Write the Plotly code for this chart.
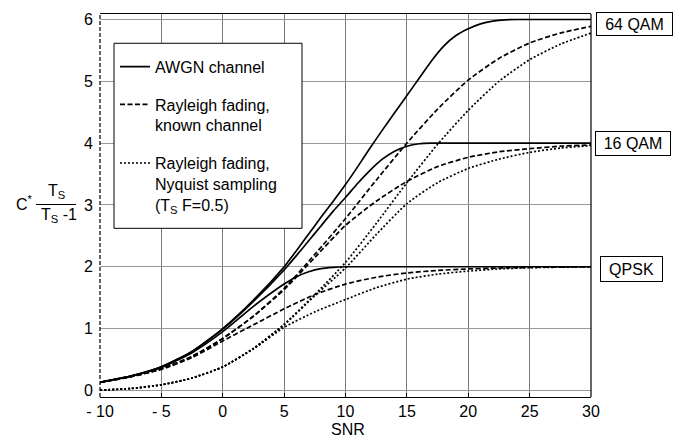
import plotly.graph_objects as go

# ---- SNR grids (dB) ----
snr_awgn = [-10, -7.5, -5, -2.5, 0, 2.5, 5, 6, 7, 8, 9, 10, 11, 12, 13, 14, 15,
            16, 17, 18, 19, 20, 21, 22, 23, 24, 25, 27.5, 30]
snr_fade = [-10, -7.5, -5, -2.5, 0, 2.5, 5, 7.5, 10, 12.5, 15, 17.5, 20, 22.5,
            25, 27.5, 30]

# ---- AWGN channel ----
awgn_64qam = [0.13, 0.23, 0.38, 0.63, 1.0, 1.46, 2.0, 2.26, 2.53, 2.8, 3.06, 3.33,
              3.62, 3.92, 4.21, 4.49, 4.77, 5.05, 5.33, 5.57, 5.74, 5.85, 5.93,
              5.975, 5.995, 6.0, 6.0, 6.0, 6.0]
awgn_16qam = [0.13, 0.23, 0.38, 0.63, 0.99, 1.44, 1.95, 2.18, 2.42, 2.66, 2.9,
              3.12, 3.35, 3.56, 3.74, 3.87, 3.95, 3.99, 4.0, 4.0, 4.0, 4.0, 4.0,
              4.0, 4.0, 4.0, 4.0, 4.0, 4.0]
awgn_qpsk = [0.13, 0.23, 0.37, 0.61, 0.95, 1.36, 1.72, 1.84, 1.92, 1.97, 1.99,
             2.0, 2.0, 2.0, 2.0, 2.0, 2.0, 2.0, 2.0, 2.0, 2.0, 2.0, 2.0, 2.0,
             2.0, 2.0, 2.0, 2.0, 2.0]

# ---- Rayleigh fading, known channel ----
ray_known_64qam = [0.13, 0.22, 0.35, 0.55, 0.84, 1.2, 1.65, 2.2, 2.78, 3.4, 4.0,
                   4.55, 5.02, 5.37, 5.62, 5.78, 5.89]
ray_known_16qam = [0.13, 0.22, 0.35, 0.55, 0.84, 1.2, 1.63, 2.15, 2.67, 3.06, 3.38,
                   3.62, 3.77, 3.86, 3.91, 3.95, 3.97]
ray_known_qpsk = [0.13, 0.22, 0.34, 0.53, 0.8, 1.06, 1.32, 1.55, 1.72, 1.83, 1.9,
                  1.94, 1.965, 1.98, 1.99, 1.995, 2.0]

# ---- Rayleigh fading, Nyquist sampling ----
ray_nyq_64qam = [0.005, 0.03, 0.09, 0.2, 0.38, 0.68, 1.07, 1.55, 2.07, 2.7, 3.36,
                 3.98, 4.53, 5.0, 5.35, 5.6, 5.78]
ray_nyq_16qam = [0.005, 0.03, 0.09, 0.2, 0.38, 0.68, 1.06, 1.53, 1.98, 2.52, 3.02,
                 3.36, 3.59, 3.74, 3.85, 3.92, 3.96]
ray_nyq_qpsk = [0.005, 0.03, 0.09, 0.2, 0.38, 0.67, 1.02, 1.27, 1.47, 1.66, 1.8,
                1.88, 1.93, 1.965, 1.985, 1.993, 1.998]

x_ticks = [-10, -5, 0, 5, 10, 15, 20, 25, 30]
x_tick_text = ["- 10", "- 5", "0", "5", "10", "15", "20", "25", "30"]
y_ticks = [0, 1, 2, 3, 4, 5, 6]

FONT = "Liberation Sans, Arial, Helvetica, sans-serif"
DASHED = "5px,2.5px"
DOTTED = "2px,2px"

fig = go.Figure()


def add_curve(x, y, dash, name, show, group):
    fig.add_trace(go.Scatter(
        x=x, y=y, mode="lines", name=name, legendgroup=group, showlegend=show,
        line=dict(color="black", width=1.7, dash=dash, shape="spline", smoothing=0.6),
        hoverinfo="skip",
    ))


add_curve(snr_awgn, awgn_64qam, "solid", "AWGN channel", True, "awgn")
add_curve(snr_fade, ray_known_64qam, DASHED, "Rayleigh fading,<br>known channel", True, "known")
add_curve(snr_fade, ray_nyq_64qam, DOTTED,
          "Rayleigh fading,<br>Nyquist sampling<br>(T<sub>S</sub> F=0.5)", True, "nyq")
add_curve(snr_awgn, awgn_16qam, "solid", "AWGN channel", False, "awgn")
add_curve(snr_awgn, awgn_qpsk, "solid", "AWGN channel", False, "awgn")
add_curve(snr_fade, ray_known_16qam, DASHED, "known", False, "known")
add_curve(snr_fade, ray_known_qpsk, DASHED, "known", False, "known")
add_curve(snr_fade, ray_nyq_16qam, DOTTED, "nyq", False, "nyq")
add_curve(snr_fade, ray_nyq_qpsk, DOTTED, "nyq", False, "nyq")

# plot area geometry (px) used for placing the decorations
L, R, T, B = 100, 91, 11, 44
W, H = 682 - L - R, 441 - T - B


def px(xp):
    return (xp - L) / W


def py(yp):
    return (441 - B - yp) / H


shapes = [
    # legend frame
    dict(type="rect", xref="paper", yref="paper", x0=px(114), x1=px(302),
         y0=py(227), y1=py(40.5), line=dict(color="black", width=1),
         fillcolor="white", layer="above"),
    # left border (dashed) and right border
    dict(type="line", xref="paper", yref="paper", x0=0, x1=0, y0=0, y1=1,
         line=dict(color="black", width=1.2, dash="4px,2px"), layer="above"),
    dict(type="line", xref="paper", yref="paper", x0=1, x1=1, y0=0, y1=1,
         line=dict(color="black", width=1.2), layer="above"),
    # fraction bar of the y-axis label
    dict(type="line", xref="paper", yref="paper", x0=px(36), x1=px(76),
         y0=py(203), y1=py(203), line=dict(color="black", width=1)),
]

annotations = [
    dict(text="C<sup>*</sup>", xref="paper", yref="paper", x=px(14), y=py(201),
         xanchor="left", yanchor="middle", showarrow=False,
         font=dict(family=FONT, size=16, color="black")),
    dict(text="T<sub>S</sub>", xref="paper", yref="paper", x=px(56), y=py(190),
         xanchor="center", yanchor="middle", showarrow=False,
         font=dict(family=FONT, size=16, color="black")),
    dict(text="T<sub>S</sub> -1", xref="paper", yref="paper", x=px(59), y=py(214),
         xanchor="center", yanchor="middle", showarrow=False,
         font=dict(family=FONT, size=16, color="black")),
    dict(text="SNR", xref="paper", yref="paper", x=px(348), y=py(430),
         xanchor="center", yanchor="middle", showarrow=False,
         font=dict(family=FONT, size=16, color="black")),
]

for label, level, cx, w, h, shift in [("64 QAM", 6, 634.5, 75, 22, -5),
                                      ("16 QAM", 4, 633, 74, 23, -0.5),
                                      ("QPSK", 2, 631.5, 61, 24, -2)]:
    annotations.append(dict(
        text=label, xref="paper", yref="y", x=px(cx), y=level, yshift=shift,
        xanchor="center", yanchor="middle", showarrow=False, width=w, height=h,
        borderpad=0, bordercolor="black", borderwidth=1, bgcolor="white",
        font=dict(family=FONT, size=16, color="black"),
    ))

fig.update_layout(
    width=682, height=441,
    margin=dict(l=L, r=R, t=T, b=B, pad=0),
    paper_bgcolor="white", plot_bgcolor="white",
    font=dict(family=FONT, size=16, color="black"),
    showlegend=True,
    legend=dict(x=px(115), y=py(47), xanchor="left", yanchor="top",
                bgcolor="rgba(0,0,0,0)", borderwidth=0, valign="top",
                traceorder="grouped", tracegroupgap=14, itemwidth=30,
                font=dict(family=FONT, size=16, color="black")),
    shapes=shapes,
    annotations=annotations,
    xaxis=dict(range=[-10, 30], tickvals=x_ticks, ticktext=x_tick_text,
               showgrid=True, gridcolor="#7a7a7a", gridwidth=1, zeroline=False,
               showline=True, mirror=True, linecolor="black", linewidth=1.2,
               ticks="inside", ticklen=4, tickcolor="black",
               tickfont=dict(family=FONT, size=16, color="black")),
    yaxis=dict(range=[-0.107, -0.107 + H / 62.3], tickvals=y_ticks,
               showgrid=True, gridcolor="#9a9a9a", gridwidth=1, zeroline=False,
               showline=False, ticks="", ticklabelstandoff=6,
               tickfont=dict(family=FONT, size=16, color="black")),
)

fig.write_html("out.html")
